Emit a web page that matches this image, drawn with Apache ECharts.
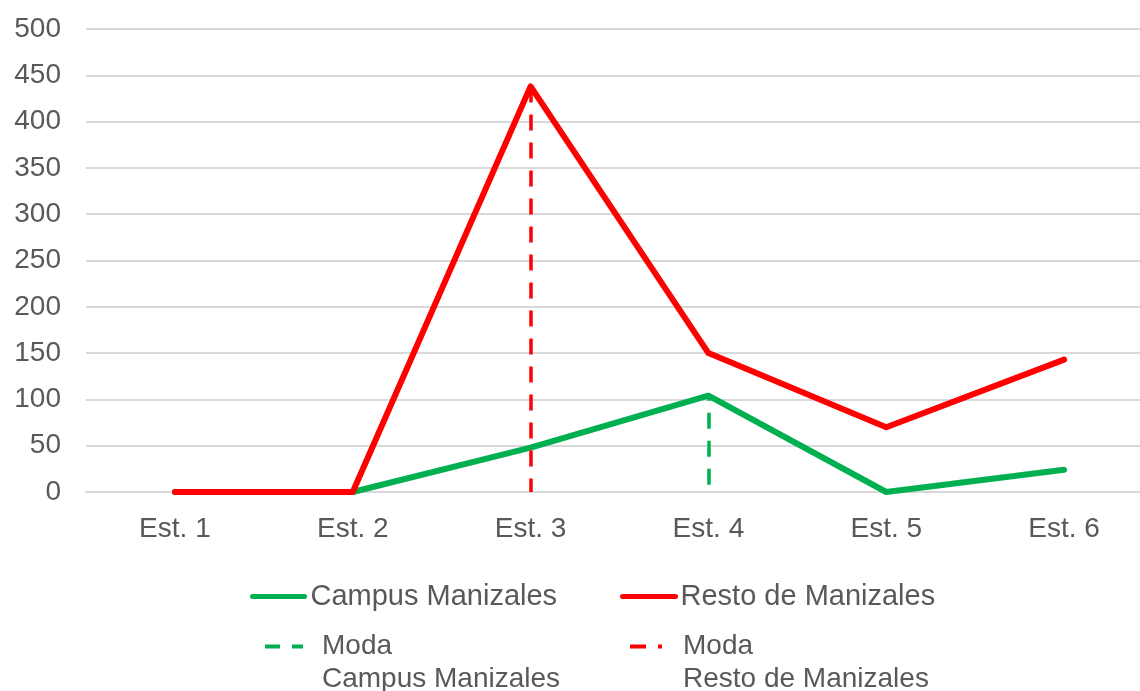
<!DOCTYPE html>
<html>
<head>
<meta charset="utf-8">
<script src="https://cdn.jsdelivr.net/npm/echarts@6/dist/echarts.min.js"></script>
<style>
  html, body { margin: 0; padding: 0; background: #fff; }
  #chart { width: 1140px; height: 691px; }
</style>
</head>
<body>
<div id="chart"></div>
<script>
// Strata (estratos) and counts per group
const categories = ['Est. 1', 'Est. 2', 'Est. 3', 'Est. 4', 'Est. 5', 'Est. 6'];
const campusManizales = [0, 0, 48, 104, 0, 24];
const restoManizales = [0, 0, 438, 150, 70, 143];
const yTicks = { min: 0, max: 500, interval: 50 };

const GREEN = '#00B050';
const RED = '#FF0000';
const TEXT = '#595959';
const GRID = '#D9D9D9';
const FONT = '"Liberation Sans", Arial, sans-serif';

// Mode = stratum with the highest count
function modeOf(values) {
  let idx = 0;
  values.forEach((v, i) => { if (v > values[idx]) idx = i; });
  return { cat: categories[idx], value: values[idx] };
}
const modaCampus = modeOf(campusManizales);
const modaResto = modeOf(restoManizales);

// vertical dashed line drawn from the mode value down to zero
function modaLine(m) {
  return [[{ coord: [m.cat, m.value] }, { coord: [m.cat, 0] }]];
}

const chart = echarts.init(document.getElementById('chart'), null, { renderer: 'canvas' });

const legendText = { color: TEXT, fontSize: 29, fontFamily: FONT, lineHeight: 33 };
const legendText2 = Object.assign({}, legendText, { fontSize: 28 });

function legendItem(opts) {
  return Object.assign({
    orient: 'horizontal',
    selectedMode: false,
    padding: 0,
    itemGap: 0,
    itemHeight: 33
  }, opts);
}

chart.setOption({
  animation: false,
  backgroundColor: '#ffffff',
  grid: { left: 86, top: 29, width: 1067, bottom: 199, containLabel: false, outerBoundsMode: 'none' },
  xAxis: {
    type: 'category',
    data: categories,
    boundaryGap: true,
    axisLine: { show: true, lineStyle: { color: GRID, width: 2 } },
    axisTick: { show: false },
    axisLabel: { color: TEXT, fontSize: 28, fontFamily: FONT, margin: 23 }
  },
  yAxis: {
    type: 'value',
    min: yTicks.min, max: yTicks.max, interval: yTicks.interval,
    axisLine: { show: false },
    axisTick: { show: false },
    axisLabel: { color: TEXT, fontSize: 28, fontFamily: FONT, margin: 25 },
    splitLine: { lineStyle: { color: GRID, width: 2 } }
  },
  legend: [
    legendItem({
      left: 250, top: 580, itemWidth: 52,
      data: [{ name: 'Campus Manizales', itemStyle: { opacity: 0 },
               lineStyle: { color: GREEN, width: 5 } }],
      textStyle: Object.assign({}, legendText, { padding: [0, 0, 0, 1] })
    }),
    legendItem({
      left: 620, top: 580, itemWidth: 53,
      data: [{ name: 'Resto de Manizales', itemStyle: { opacity: 0 },
               lineStyle: { color: RED, width: 5 } }],
      textStyle: Object.assign({}, legendText, { padding: [0, 0, 0, 0] })
    }),
    legendItem({
      left: 263, top: 597, itemWidth: 38,
      formatter: n => '\n' + n,
      data: [{ name: 'Moda\nCampus Manizales', itemStyle: { opacity: 0 },
               lineStyle: { color: GREEN, width: 4, type: [15, 12] } }],
      textStyle: Object.assign({}, legendText2, { padding: [0, 0, 0, 14] })
    }),
    legendItem({
      left: 628, top: 597, itemWidth: 32,
      formatter: n => '\n' + n,
      data: [{ name: 'Moda\nResto de Manizales', itemStyle: { opacity: 0 },
               lineStyle: { color: RED, width: 4, type: [16, 12, 4, 12] } }],
      textStyle: Object.assign({}, legendText2, { padding: [0, 0, 0, 16] })
    })
  ],
  series: [
    {
      name: 'Campus Manizales',
      type: 'line',
      data: campusManizales,
      symbol: 'none',
      lineStyle: { color: GREEN, width: 6, cap: 'round', join: 'round' },
      itemStyle: { color: GREEN },
      z: 2
    },
    {
      name: 'Resto de Manizales',
      type: 'line',
      data: restoManizales,
      symbol: 'none',
      lineStyle: { color: RED, width: 6, cap: 'round', join: 'round' },
      itemStyle: { color: RED },
      z: 3
    },
    {
      name: 'Moda\nCampus Manizales',
      type: 'line',
      data: [],
      symbol: 'none',
      itemStyle: { color: GREEN },
      markLine: {
        silent: true,
        symbol: ['none', 'none'],
        label: { show: false },
        lineStyle: { color: GREEN, width: 3.5, type: [16, 12], dashOffset: 11 },
        data: modaLine(modaCampus)
      },
      z: 1
    },
    {
      name: 'Moda\nResto de Manizales',
      type: 'line',
      data: [],
      symbol: 'none',
      itemStyle: { color: RED },
      markLine: {
        silent: true,
        symbol: ['none', 'none'],
        label: { show: false },
        lineStyle: { color: RED, width: 3.5, type: [16, 12] },
        data: modaLine(modaResto)
      },
      z: 1
    }
  ]
});
</script>
</body>
</html>
